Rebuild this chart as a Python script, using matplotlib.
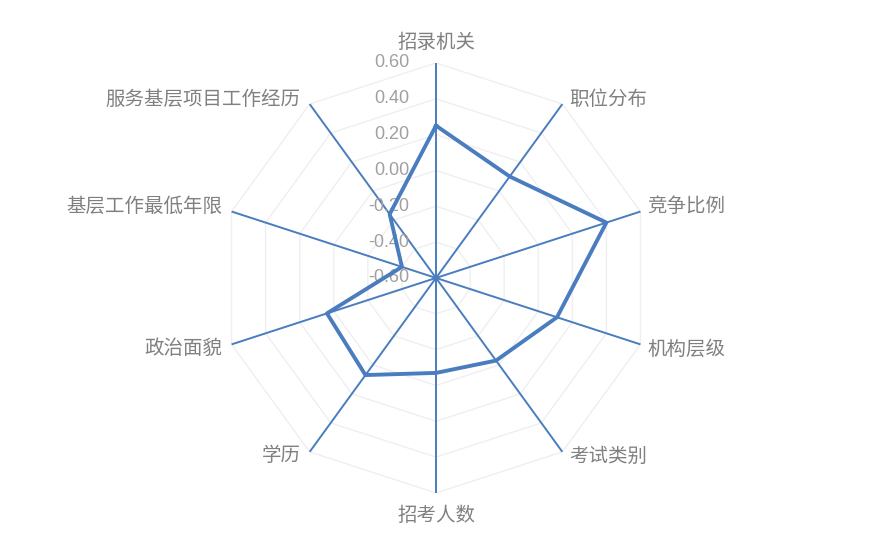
import numpy as np
import matplotlib
matplotlib.use('Agg')
import matplotlib.pyplot as plt

plt.rcParams['font.family'] = ['Noto Sans CJK SC', 'DejaVu Sans']

categories = ['招录机关', '职位分布', '竞争比例', '机构层级', '考试类别',
              '招考人数', '学历', '政治面貌', '基层工作最低年限', '服务基层项目工作经历']
values = [0.25, 0.10, 0.40, 0.11, -0.03, -0.07, 0.07, 0.04, -0.40, -0.16]
ring_values = [-0.40, -0.20, 0.00, 0.20, 0.40, 0.60]
tick_values = [0.60, 0.40, 0.20, 0.00, -0.20, -0.40, -0.60]

blue = '#4A7CC0'
r_min, r_max = -0.6, 0.6

fig = plt.figure(figsize=(8.75, 5.6), dpi=100)
ax = fig.add_axes([0.2526, 0.1197, 0.4914, 0.7679], projection='polar')
ax.set_theta_offset(np.pi / 2)
ax.set_theta_direction(-1)
ax.set_ylim(r_min, r_max)
ax.set_xticks([])
ax.set_yticks([])
ax.grid(False)
ax.spines['polar'].set_visible(False)
ax.patch.set_visible(False)

n = len(categories)
angles = np.arange(n) * 2 * np.pi / n
closed = np.append(angles, angles[0])

# polygon grid rings
for rv in ring_values:
    ax.plot(closed, [rv] * (n + 1), color='#EFEFEF', lw=1.0, zorder=1)

# spokes
for a in angles:
    ax.plot([a, a], [r_min, r_max], color=blue, lw=1.4, zorder=2)

# data
ax.plot(closed, values + values[:1], color=blue, lw=2.8, zorder=4,
        solid_joinstyle='round')

# value labels along the vertical axis
for tv in tick_values:
    ax.annotate('%.2f' % tv, xy=(0, tv), xytext=(-27, 0), textcoords='offset pixels',
                ha='right', va='center', fontsize=13, color='#A0A0A0',
                family=['Liberation Sans', 'DejaVu Sans'], zorder=3)

# category labels
for a, label in zip(angles, categories):
    deg = np.degrees(a)
    if deg < 1:
        ha, va, dx, dy = 'center', 'bottom', 0, 10
    elif abs(deg - 180) < 1:
        ha, va, dx, dy = 'center', 'top', 0, -12
    elif deg < 180:
        ha, va, dx = 'left', 'center', 7
        dy = 5 if deg < 90 else -5
    else:
        ha, va, dx = 'right', 'center', -9
        dy = 5 if deg > 270 else -4
    ax.annotate(label, xy=(a, r_max), xytext=(dx, dy), textcoords='offset pixels',
                ha=ha, va=va, fontsize=14, color='#808080')

fig.savefig('out.png', dpi=100)
